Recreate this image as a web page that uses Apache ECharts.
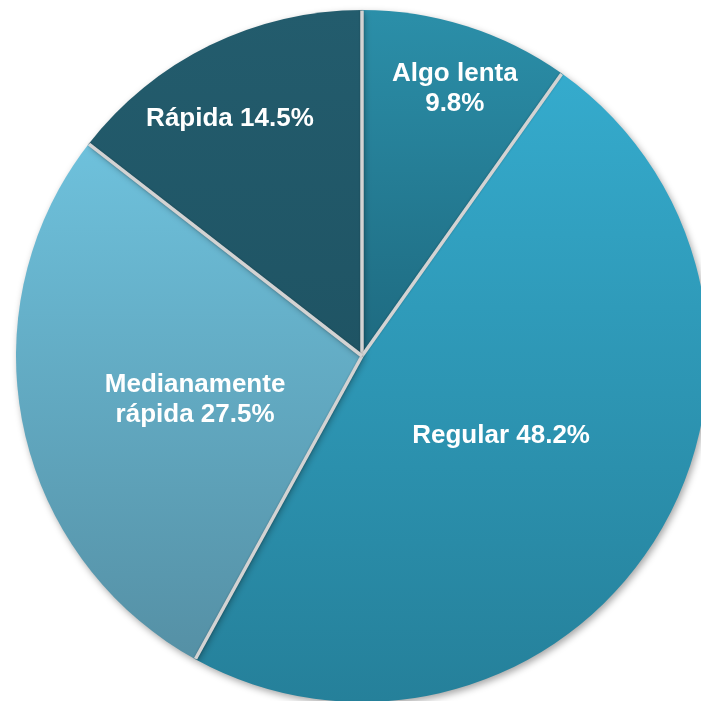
<!DOCTYPE html>
<html>
<head>
<meta charset="utf-8">
<script src="https://cdn.jsdelivr.net/npm/echarts@6/dist/echarts.min.js"></script>
<style>
  html, body { margin: 0; padding: 0; background: #fff; }
  #main { width: 701px; height: 701px; }
</style>
</head>
<body>
<div id="main"></div>
<script>
// datos del gráfico
var categories = ['Algo lenta', 'Regular', 'Medianamente rápida', 'Rápida'];
var values = [9.8, 48.2, 27.5, 14.5];

// colores degradados (arriba -> abajo)
var topColors = ['#2b8fa9', '#35abcd', '#6ec1dc', '#235c6d'];
var bottomColors = ['#1e6a80', '#25809a', '#5590a5', '#1f5464'];

// posición de las etiquetas: distancia relativa al centro y giro (grados)
var labelDist = [0.81, 0.455, 0.49, 0.777];
var labelTurn = [1.5, -2.2, -3.0, -3.0];

var CX = 362, CY = 356, R = 346;

var chart = echarts.init(document.getElementById('main'));

var total = values.reduce(function (a, b) { return a + b; }, 0);
var midAngles = [];
var bounds = [];
var acc = 0;
values.forEach(function (v) {
    bounds.push(acc / total * Math.PI * 2);
    midAngles.push((acc + v / 2) / total * Math.PI * 2);
    acc += v;
});

var seriesData = categories.map(function (name, i) {
    return {
        name: name,
        value: values[i],
        itemStyle: {
            color: new echarts.graphic.LinearGradient(0, 0, 0, 1, [
                { offset: 0, color: topColors[i] },
                { offset: 1, color: bottomColors[i] }
            ])
        }
    };
});

// líneas separadoras grises entre sectores (sin borde en el arco exterior)
var separators = bounds.map(function (a) {
    return {
        type: 'line',
        z: 100,
        silent: true,
        shape: {
            x1: CX, y1: CY,
            x2: CX + (R - 0.5) * Math.sin(a),
            y2: CY - (R - 0.5) * Math.cos(a)
        },
        style: {
            stroke: '#d3d3d3',
            lineWidth: 3.5,
            shadowBlur: 2,
            shadowColor: 'rgba(0,0,0,0.25)'
        }
    };
});

chart.setOption({
    animation: false,
    graphic: separators,
    series: [{
        type: 'pie',
        center: [CX, CY],
        radius: [0, R],
        startAngle: 90,
        clockwise: true,
        data: seriesData,
        itemStyle: {
            borderWidth: 0,
            shadowBlur: 7,
            shadowOffsetX: 2,
            shadowOffsetY: 3,
            shadowColor: 'rgba(0,0,0,0.35)'
        },
        label: {
            show: true,
            position: 'inside',
            color: '#fff',
            fontFamily: 'Liberation Sans, Arial, sans-serif',
            fontWeight: 'bold',
            fontSize: 26,
            lineHeight: 30,
            align: 'center',
            formatter: function (p) {
                var name = p.name;
                if (p.dataIndex === 0) {
                    return name + '\n' + p.value + '%';
                }
                if (p.dataIndex === 2) {
                    return name.replace(' ', '\n') + ' ' + p.value + '%';
                }
                return name + ' ' + p.value + '%';
            }
        },
        labelLine: { show: false },
        labelLayout: function (params) {
            var i = params.dataIndex;
            var a = midAngles[i];
            var t = a + labelTurn[i] * Math.PI / 180;
            var d = labelDist[i] * R;
            var h = 0.5 * R;
            return {
                dx: d * Math.sin(t) - h * Math.sin(a),
                dy: -d * Math.cos(t) + h * Math.cos(a)
            };
        }
    }]
});
</script>
</body>
</html>
